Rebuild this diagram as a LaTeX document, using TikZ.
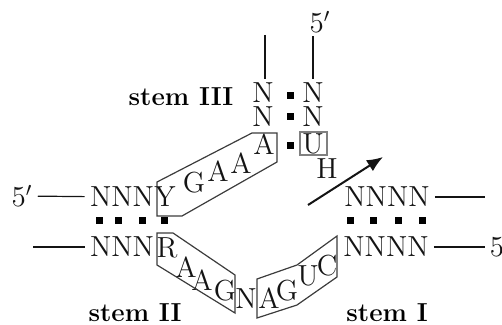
\documentclass[tikz,border=0pt]{standalone}
\usepackage{tikz}
\usetikzlibrary{arrows.meta, positioning, calc}
\definecolor{mydark}{RGB}{20,20,20}
\definecolor{boxgray}{RGB}{60,60,60}
\tikzset{
  base/.style={font=\fontsize{14.5}{14.5}\selectfont, inner sep=0pt, text=mydark},
  stemlabel/.style={font=\fontsize{13}{13}\selectfont\bfseries, inner sep=0pt},
  pairdot/.style={rectangle, fill=black, minimum size=3.5pt, inner sep=0pt},
  strand/.style={line width=0.6pt, color=mydark, shorten <=2.5pt, shorten >=2.5pt},
  loopbox/.style={line width=0.6pt, draw=boxgray},
  arrow/.style={-{Latex[length=8pt, width=6.5pt]}, line width=1pt, color=mydark}
}

\begin{document}
\begin{tikzpicture}[x=0.5pt, y=-0.5pt]
  \useasboundingbox (0,0) rectangle (502,325);

  % Stem III (top)
  \node[stemlabel] (stIII) at (181,97) {stem III};
  \node[base] (nL1) at (263,93) {N};
  \node[base] (nL2) at (263,117) {N};
  \node[base] (aL3) at (264,144) {A};
  \node[base] (nR1) at (313,93) {N};
  \node[base] (nR2) at (313,117) {N};
  \node[base] (uR3) at (313,144) {U};
  \node[base] (hR4) at (327,169) {H};
  \node[base] (fiveT) at (320,22) {5$'$};
  \coordinate (topL) at (265,35);
  \draw[line width=0.6pt, color=mydark] (topL) -- ([yshift=2pt]topL |- nL1.north);
  \draw[line width=0.6pt, color=mydark] ([yshift=-1.5pt]nR1.north |- fiveT.south) -- ([yshift=2pt]nR1.north);
  \foreach \y in {96, 117, 146} {
    \node[pairdot] at (290,\y) {};
  }
  \draw[line width=0.6pt, draw=gray] (300,132) rectangle (327,155);

  % GAAA loop
  \node[base] (gLp) at (194,183) {G};
  \node[base] (aLp1) at (218,171) {A};
  \node[base] (aLp2) at (241,163) {A};
  \draw[loopbox] (157,216) -- (182,216) -- (277,162) -- (277,133)
    -- (252,133) -- (157,182) -- cycle;

  % Stem II (left)
  \node[base] (fiveL) at (22,196) {5$'$};
  \node[base] (nnnT) at (122,197) {NNN};
  \node[base] (yT) at (165,197) {Y};
  \node[base] (nnnB) at (122,247) {NNN};
  \node[base] (rB) at (167,248) {R};
  \coordinate (freeL) at (33,247);
  \draw[strand] (fiveL) -- (nnnT);
  \draw[strand, shorten <=0pt] (freeL) -- (nnnB);
  \foreach \x in {99, 118, 142, 164} {
    \node[pairdot] at (\x,221) {};
  }
  \node[stemlabel] (stII) at (135,313) {stem II};

  % RAAG and NAGUC segments
  \node[base] (aJ1) at (186,267) {A};
  \node[base] (aJ2) at (202,280) {A};
  \node[base] (gJ3) at (225,291) {G};
  \draw[loopbox] (157,233) -- (173,233) -- (235,275) -- (235,313)
    -- (157,265) -- cycle;
  \node[base] (nJ4) at (246,299) {N};
  \node[base] (aJ5) at (269,298) {A};
  \node[base] (gJ6) at (287,291) {G};
  \node[base] (uJ7) at (308,276) {U};
  \node[base] (cJ8) at (327,266) {C};
  \draw[loopbox] (257,279) -- (297,265) -- (337,236) -- (337,277)
    -- (297,305) -- (257,318) -- cycle;

  % Stem I (right)
  \node[base] (nnnnT) at (387,197) {NNNN};
  \node[base] (nnnnB) at (386,247) {NNNN};
  \node[base] (fiveR) at (497,247) {5};
  \coordinate (freeR) at (485,197);
  \draw[strand, shorten >=0pt] (nnnnT) -- (freeR);
  \draw[strand] (nnnnB) -- (fiveR);
  \foreach \x in {350, 373, 398, 422} {
    \node[pairdot] at (\x,221) {};
  }
  \node[stemlabel] (stI) at (387,313) {stem I};

  % Cleavage arrow
  \coordinate (arrS) at (308,205);
  \coordinate (arrE) at (383,157);
  \draw[arrow] (arrS) -- (arrE);
\end{tikzpicture}
\end{document}
